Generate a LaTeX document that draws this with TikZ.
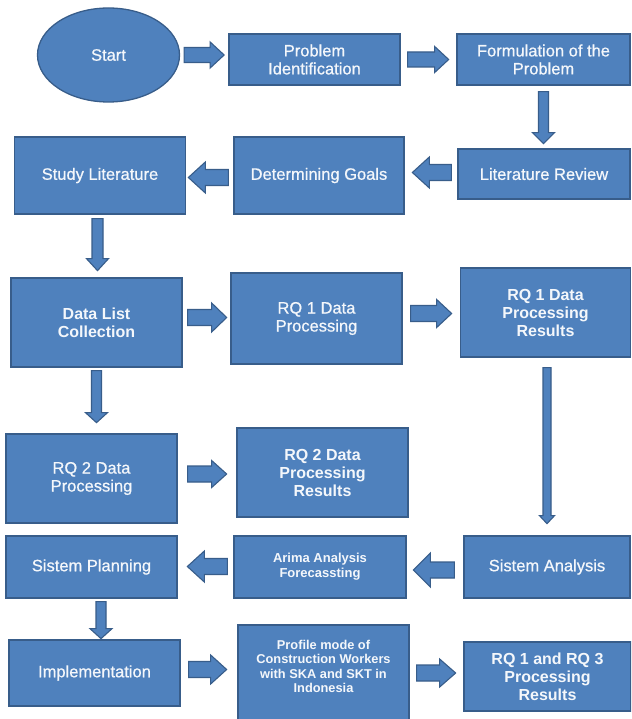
\documentclass[tikz,border=0pt]{standalone}
\usepackage{fontspec}
\setmainfont{Liberation Sans}
\newfontfamily\medfont[FakeBold=0.7]{Liberation Sans}
\usetikzlibrary{calc,shapes.geometric}
\definecolor{boxblue}{HTML}{4F81BD}
\definecolor{edgeblue}{HTML}{385D8A}
\definecolor{txt}{HTML}{F4F7FB}
\tikzset{
  boxnode/.style={draw=edgeblue, fill=boxblue, line width=1.3pt, text=txt, align=center, inner sep=2pt,
    font=\fontsize{16.5}{18}\selectfont\medfont},
  bigtext/.style={font=\fontsize{16}{18}\selectfont\bfseries},
  smalltext/.style={font=\fontsize{13}{15}\selectfont\bfseries},
  tinytext/.style={font=\fontsize{12.8}{14.5}\selectfont\bfseries},
  blk/.style={draw=edgeblue, fill=boxblue, line width=1.1pt, line join=miter}
}
% right / left / down block arrows: #1 tail centre, #2 length, #3 shaft half width, #4 head half width, #5 head length
\newcommand\rblk[5]{\draw[blk] ($(#1)+(0,-#3)$) -- ($(#1)+(#2-#5,-#3)$) -- ($(#1)+(#2-#5,-#4)$) -- ($(#1)+(#2,0)$) -- ($(#1)+(#2-#5,#4)$) -- ($(#1)+(#2-#5,#3)$) -- ($(#1)+(0,#3)$) -- cycle;}
\newcommand\lblk[5]{\draw[blk] ($(#1)+(0,-#3)$) -- ($(#1)+(-#2+#5,-#3)$) -- ($(#1)+(-#2+#5,-#4)$) -- ($(#1)+(-#2,0)$) -- ($(#1)+(-#2+#5,#4)$) -- ($(#1)+(-#2+#5,#3)$) -- ($(#1)+(0,#3)$) -- cycle;}
\newcommand\dblk[5]{\draw[blk] ($(#1)+(-#3,0)$) -- ($(#1)+(-#3,#2-#5)$) -- ($(#1)+(-#4,#2-#5)$) -- ($(#1)+(0,#2)$) -- ($(#1)+(#4,#2-#5)$) -- ($(#1)+(#3,#2-#5)$) -- ($(#1)+(#3,0)$) -- cycle;}
\begin{document}
\begin{tikzpicture}[x=1pt,y=-1pt]
\useasboundingbox (0,0) rectangle (631,719);
\clip (0,0) rectangle (631,719);
\fill[white] (0,0) rectangle (631,719);

% nodes
\node[boxnode, ellipse, minimum width=142pt, minimum height=94pt] (start) at (108.5,55) {Start};
\node[boxnode, minimum width=171pt, minimum height=51pt] (pi) at (314.5,59.5) {Problem\\Identification};
\node[boxnode, minimum width=173pt, minimum height=51pt] (fp) at (543.5,59.5) {Formulation of the\\Problem};
\node[boxnode, minimum width=172pt, minimum height=50pt] (lr) at (544,174) {Literature Review};
\node[boxnode, minimum width=170pt, minimum height=77pt] (dg) at (319,175.5) {Determining Goals};
\node[boxnode, minimum width=171pt, minimum height=77pt] (sl) at (100,175.5) {Study Literature};
\node[boxnode, bigtext, minimum width=171pt, minimum height=89pt] (dl) at (96.5,322.5) {Data List\\Collection};
\node[boxnode, minimum width=171pt, minimum height=91pt] (rq1) at (316.5,318.5) {RQ 1 Data\\Processing};
\node[boxnode, bigtext, minimum width=170pt, minimum height=89pt] (rq1r) at (545.5,312.5) {RQ 1 Data\\Processing\\Results};
\node[boxnode, minimum width=171pt, minimum height=89pt] (rq2) at (91.5,478.5) {RQ 2 Data\\Processing};
\node[boxnode, bigtext, minimum width=171pt, minimum height=89pt] (rq2r) at (322.5,472.5) {RQ 2 Data\\Processing\\Results};
\node[boxnode, minimum width=171pt, minimum height=62pt] (sp) at (91.5,567) {Sistem Planning};
\node[boxnode, smalltext, minimum width=172pt, minimum height=62pt] (ar) at (320,567) {Arima Analysis\\Forecassting};
\node[boxnode, minimum width=166pt, minimum height=62pt] (sa) at (547,567) {Sistem Analysis};
\node[boxnode, minimum width=171pt, minimum height=66pt] (im) at (94.5,673) {Implementation};
\node[boxnode, minimum width=171pt, minimum height=100pt] (pm) at (323.5,675) {};
\node[tinytext, text=txt, align=center] (pmtext) at (323.5,666.5) {Profile mode of\\Construction Workers\\with SKA and SKT in\\Indonesia};
\node[boxnode, bigtext, minimum width=167pt, minimum height=69pt] (rr) at (547.5,676.5) {RQ 1 and RQ 3\\Processing\\Results};

% arrow tails derived from the nodes
\coordinate (t1) at ($(start.east)+(4,0)$);
\coordinate (t2) at ($(pi.east)+(7,0)$);
\coordinate (t3) at ($(fp.south)+(0,6)$);
\coordinate (t4) at ($(lr.west)+(-6,-1.5)$);
\coordinate (t5) at ($(dg.west)+(-5,2)$);
\coordinate (t6) at ($(sl.south)+(-2.5,4)$);
\coordinate (t7) at ($(dl.east)+(5,-5)$);
\coordinate (t8) at ($(rq1.east)+(8,-5)$);
\coordinate (t9) at ($(rq1r.south)+(1.5,10)$);
\coordinate (t10) at ($(dl.south)+(0,3)$);
\coordinate (t11) at ($(rq2.east)+(10,-4.5)$);
\coordinate (t12) at ($(sa.west)+(-9,3)$);
\coordinate (t13) at ($(ar.west)+(-6,-0.5)$);
\coordinate (t14) at ($(sp.south)+(9.5,3)$);
\coordinate (t15) at ($(im.east)+(8,-3.5)$);
\coordinate (t16) at ($(pm.east)+(7,-2)$);

\rblk{t1}{40}{7.5}{13}{14}
\rblk{t2}{41}{7.5}{13}{14}
\dblk{t3}{52}{5}{11}{11}
\lblk{t4}{39}{8}{15.5}{17}
\lblk{t5}{40}{8}{15.5}{17}
\dblk{t6}{52}{5.5}{11}{12}
\rblk{t7}{39}{8}{14.5}{15}
\rblk{t8}{41}{8}{14}{15}
\dblk{t9}{156}{4}{7.5}{8}
\dblk{t10}{52}{5}{11}{10}
\rblk{t11}{39}{8}{13.5}{15}
\lblk{t12}{41}{8}{17}{17}
\lblk{t13}{40}{8}{15.5}{17}
\dblk{t14}{37}{5}{11}{10}
\rblk{t15}{38}{8}{14.5}{16}
\rblk{t16}{39}{8}{14}{16}
\end{tikzpicture}
\end{document}
